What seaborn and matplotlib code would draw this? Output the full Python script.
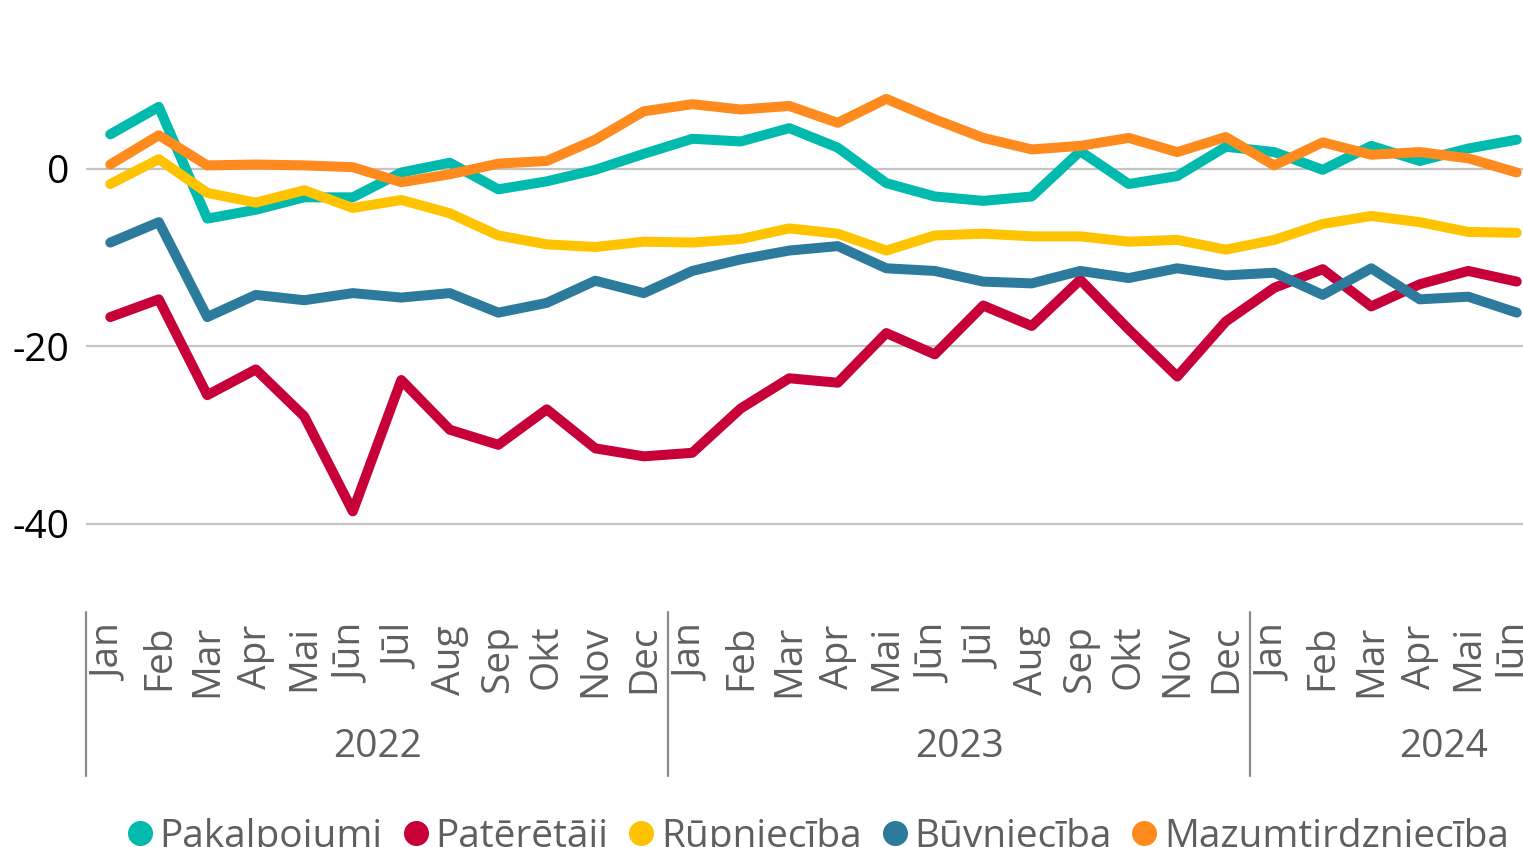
import numpy as np
import pandas as pd
import matplotlib
matplotlib.use("Agg")
import matplotlib.pyplot as plt
import matplotlib.transforms as mtransforms
from matplotlib.lines import Line2D
import seaborn as sns

# mēneši un gadi
menesi = ['Jan', 'Feb', 'Mar', 'Apr', 'Mai', 'Jūn', 'Jūl', 'Aug', 'Sep', 'Okt', 'Nov', 'Dec']
gadi = ['2022', '2023', '2024']
menesu_etiketes = menesi * 2 + menesi[:6]

pakalpojumi = [3.9, 7.0, -5.6, -4.6, -3.2, -3.2, -0.4, 0.7, -2.3, -1.4, -0.1, 1.7,
               3.4, 3.1, 4.6, 2.4, -1.6, -3.1, -3.6, -3.1, 2.0, -1.7, -0.8, 2.5,
               1.9, -0.1, 2.6, 0.9, 2.3, 3.3]
pateretaji = [-16.7, -14.7, -25.5, -22.6, -27.9, -38.6, -23.8, -29.4, -31.1, -27.1, -31.5, -32.4,
              -32.0, -27.0, -23.6, -24.1, -18.5, -20.9, -15.4, -17.7, -12.5, -18.1, -23.4, -17.2,
              -13.4, -11.3, -15.5, -13.0, -11.5, -12.7]
rupnieciba = [-1.7, 1.1, -2.7, -3.8, -2.4, -4.4, -3.5, -5.0, -7.5, -8.5, -8.8, -8.2,
              -8.3, -7.9, -6.7, -7.3, -9.2, -7.5, -7.3, -7.6, -7.6, -8.2, -8.0, -9.1,
              -8.0, -6.2, -5.3, -6.0, -7.1, -7.2]
buvnieciba = [-8.3, -6.0, -16.7, -14.2, -14.8, -14.0, -14.5, -14.0, -16.2, -15.1, -12.6, -14.0,
              -11.5, -10.2, -9.2, -8.7, -11.2, -11.5, -12.7, -12.9, -11.5, -12.3, -11.2, -12.0,
              -11.7, -14.2, -11.2, -14.7, -14.4, -16.2]
mazumtirdznieciba = [0.5, 3.8, 0.4, 0.5, 0.4, 0.2, -1.5, -0.6, 0.6, 0.9, 3.3, 6.5,
                     7.3, 6.7, 7.1, 5.2, 7.9, 5.6, 3.5, 2.2, 2.6, 3.5, 1.9, 3.6,
                     0.4, 3.0, 1.6, 1.9, 1.2, -0.4]

nozares = ['Pakalpojumi', 'Patērētāji', 'Rūpniecība', 'Būvniecība', 'Mazumtirdzniecība']
krasas = ['#00BAAD', '#C8003A', '#FFC300', '#2C7A9C', '#FF8B1F']

dati = pd.DataFrame({
    'idx': np.arange(len(menesu_etiketes)),
    'Pakalpojumi': pakalpojumi,
    'Patērētāji': pateretaji,
    'Rūpniecība': rupnieciba,
    'Būvniecība': buvnieciba,
    'Mazumtirdzniecība': mazumtirdznieciba,
})
garais = dati.melt(id_vars='idx', var_name='nozare', value_name='vertiba')

sns.set_style('white')
plt.rcParams['font.family'] = ['Open Sans', 'DejaVu Sans']

fig = plt.figure(figsize=(15.23, 8.47), dpi=100)
ax = fig.add_axes([0.0565, 0.2769, 1.019, 0.7331])

sns.lineplot(data=garais, x='idx', y='vertiba', hue='nozare', hue_order=nozares,
             palette=krasas, linewidth=7.2, legend=False, ax=ax,
             solid_capstyle='round', solid_joinstyle='round')

ax.set_xlim(-0.5, 31.5)
ax.set_ylim(-50, 20)
ax.set_yticks([0, -20, -40])
ax.set_yticklabels(['0', '-20', '-40'])
ax.yaxis.grid(True, color='#C4C4C4', linewidth=1.6)
ax.set_axisbelow(True)
for s in ax.spines.values():
    s.set_visible(False)
ax.tick_params(axis='y', length=0, pad=12, labelsize=28, labelcolor='black')

ax.set_xticks(np.arange(len(menesu_etiketes)))
ax.set_xticklabels(menesu_etiketes, rotation=90, va='top', ha='center')
ax.tick_params(axis='x', length=0, pad=9, labelsize=28, labelcolor='#5F5F5F')
ax.set_xlabel('')
ax.set_ylabel('')

# gadu atdalītāji un nosaukumi
trans = mtransforms.blended_transform_factory(ax.transData, ax.transAxes)
for k in range(3):
    ax.plot([k * 12 - 0.5, k * 12 - 0.5], [0, -0.264], transform=trans,
            color='#8A8A8A', linewidth=1.6, clip_on=False)
for x, g in zip([5.5, 17.5, 27.5], gadi):
    ax.text(x, -0.217, g, transform=trans, ha='center', va='center',
            fontsize=28, color='#5F5F5F')

rokturi = [Line2D([0], [0], marker='o', linestyle='', markersize=17,
                  markerfacecolor=c, markeredgecolor=c) for c in krasas]
fig.legend(rokturi, nozares, loc='center', bbox_to_anchor=(0.535, 0.012),
           ncol=5, frameon=False, fontsize=28, labelcolor='#5F5F5F',
           handletextpad=0.0, columnspacing=0.35, handlelength=1.0)

fig.savefig('out.png', dpi=100)
